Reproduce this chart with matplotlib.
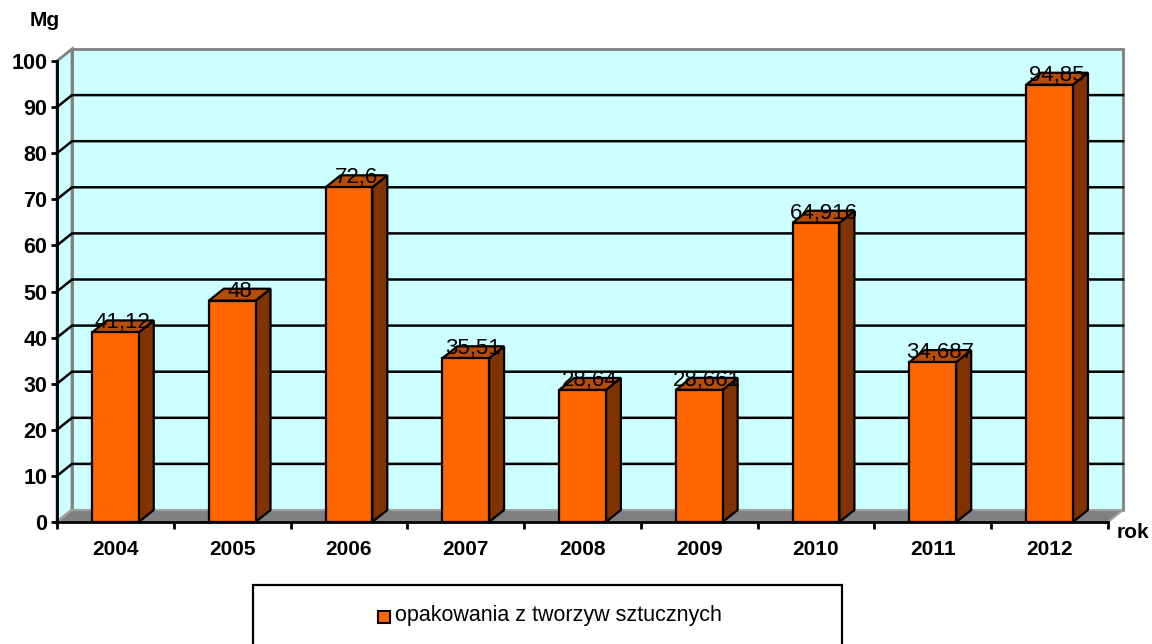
import numpy as np
import matplotlib.pyplot as plt
from matplotlib.patches import Polygon, Rectangle

plt.rcParams['font.family'] = ['Liberation Sans', 'DejaVu Sans']

years = ['2004', '2005', '2006', '2007', '2008', '2009', '2010', '2011', '2012']
values = [41.12, 48, 72.6, 35.51, 28.64, 28.661, 64.916, 34.687, 94.85]
value_labels = ['41,12', '48', '72,6', '35,51', '28,64', '28,661', '64,916', '34,687', '94,85']
series_name = 'opakowania z tworzyw sztucznych'
yticks = np.arange(0, 101, 10)

W, H = 1152, 644
fig = plt.figure(figsize=(W / 100, H / 100), dpi=100)

# front plane of the pseudo-3D chart in pixels
x0, x1 = 57, 1108
y0, y1 = 522, 61
ax = fig.add_axes([x0 / W, 1 - y0 / H, (x1 - x0) / W, (y0 - y1) / H])
n = len(years)
ax.set_xlim(0, n)
ax.set_ylim(0, 100)
ax.patch.set_visible(False)

# depth offset (15 px right, 12 px up) in data units
px_y = (y0 - y1) / 100
dx = 15 / ((x1 - x0) / n)
dy = 12 / px_y

wall = '#CCFFFF'
gray = '#808080'

# back wall + side wall
ax.add_patch(Polygon([(dx, dy), (n + dx, dy), (n + dx, 100 + dy), (dx, 100 + dy)],
                     closed=True, fc=wall, ec=gray, lw=2, zorder=1, clip_on=False))
ax.add_patch(Polygon([(0, 0), (dx, dy), (dx, 100 + dy), (0, 100)],
                     closed=True, fc=wall, ec=gray, lw=2, zorder=1, clip_on=False))
# gridlines on walls
for v in yticks[1:-1]:
    ax.plot([0, dx, n + dx], [v, v + dy, v + dy], color='black', lw=1.8,
            zorder=2, clip_on=False, solid_joinstyle='miter')
# floor
ax.add_patch(Polygon([(0, 0), (n, 0), (n + dx, dy), (dx, dy)],
                     closed=True, fc=gray, ec='#A0A0A0', lw=1.5, zorder=3, clip_on=False))

# bars
bw = 0.4
for i, (v, lab) in enumerate(zip(values, value_labels)):
    a = i + 0.5 - bw / 2
    b = i + 0.5 + bw / 2
    ax.add_patch(Polygon([(b, 0), (b + dx, dy), (b + dx, v + dy), (b, v)],
                         closed=True, fc='#803300', ec='black', lw=1.6, zorder=4, clip_on=False))
    ax.add_patch(Polygon([(a, v), (b, v), (b + dx, v + dy), (a + dx, v + dy)],
                         closed=True, fc='#B84C00', ec='black', lw=1.6, zorder=4, clip_on=False))
    ax.add_patch(Rectangle((a, 0), bw, v, fc='#FF6600', ec='black', lw=1.6, zorder=5, clip_on=False))
    ax.text(i + 0.5 + dx / 2, v + dy - 8 / px_y, lab, ha='center', va='baseline',
            fontsize=16, zorder=6, clip_on=False)

# axes
for s in ['top', 'right']:
    ax.spines[s].set_visible(False)
for s in ['left', 'bottom']:
    ax.spines[s].set_linewidth(2)
    ax.spines[s].set_zorder(7)
ax.set_yticks(yticks)
ax.set_yticklabels([str(t) for t in yticks], fontsize=15.5, fontweight='bold')
ax.tick_params(axis='y', length=4, width=2, pad=3)
ax.set_xticks(np.arange(n + 1))
ax.set_xticklabels([])
ax.set_xticks(np.arange(n) + 0.5, minor=True)
ax.set_xticklabels(years, minor=True, fontsize=15, fontweight='bold')
ax.tick_params(axis='x', which='major', length=5, width=2)
ax.tick_params(axis='x', which='minor', length=0, pad=13)

fig.text(45 / W, 1 - 20 / H, 'Mg', ha='center', va='center', fontsize=15, fontweight='bold')
fig.text(1133 / W, 1 - 533 / H, 'rok', ha='center', va='center', fontsize=15, fontweight='bold')

# legend box
fig.patches.append(Rectangle((253 / W, -0.05), (842 - 253) / W, 0.05 + (644 - 585) / H,
                             transform=fig.transFigure, fc='white', ec='black', lw=1.6))
fig.patches.append(Rectangle((378 / W, 1 - 623 / H), 12 / W, 12 / H,
                             transform=fig.transFigure, fc='#FF6600', ec='black', lw=1.5))
fig.text(395 / W, 1 - 616 / H, series_name, ha='left', va='center', fontsize=15.5)

fig.savefig('out.png', dpi=100)
